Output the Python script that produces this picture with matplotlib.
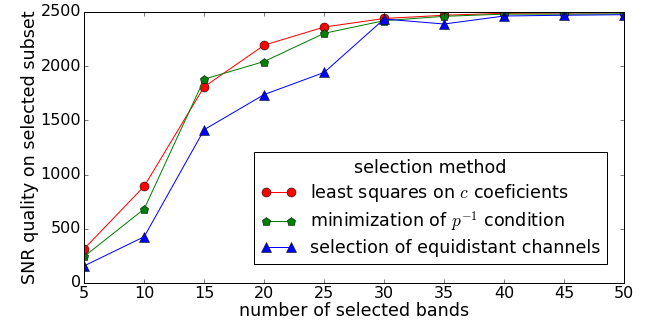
import matplotlib
matplotlib.use('Agg')
import matplotlib.pyplot as plt

# number of bands vs SNR quality for three selection methods
bands = [5, 10, 15, 20, 25, 30, 35, 40, 45, 50]
snr_lsq = [315, 892, 1810, 2194, 2361, 2440, 2470, 2488, 2490, 2492]
snr_pinv = [244, 682, 1880, 2043, 2303, 2420, 2460, 2480, 2480, 2482]
snr_equi = [157, 426, 1414, 1738, 1942, 2435, 2389, 2463, 2470, 2475]

plt.style.use('classic')
plt.rcParams['mathtext.fontset'] = 'cm'
plt.rcParams['font.size'] = 17

fig = plt.figure(figsize=(9, 4.5), dpi=72, facecolor='white')
ax = fig.add_axes([0.13, 0.127, 0.833, 0.836])

ax.plot(bands, snr_lsq, color='r', marker='o', markersize=9, label='least squares on $c$ coeficients')
ax.plot(bands, snr_pinv, color='g', marker='p', markersize=9, label='minimization of $p^{-1}$ condition')
ax.plot(bands, snr_equi, color='b', marker='^', markersize=10, label='selection of equidistant channels')

ax.set_xlim(5, 50)
ax.set_ylim(0, 2500)
ax.tick_params(labelsize=16, pad=3)
ax.set_xlabel('number of selected bands', fontsize=17.5, labelpad=1)
ax.set_ylabel('SNR quality on selected subset', fontsize=17.5, labelpad=2)

leg = ax.legend(loc='lower right', title='selection method', fontsize=17.5,
                bbox_to_anchor=(0.969, 0.07), borderaxespad=0, numpoints=2,
                handlelength=2.0, labelspacing=0.3, borderpad=0.4,
                handletextpad=0.8)
leg.get_title().set_fontsize(17.5)

fig.savefig('out.png', dpi=72, facecolor='white')
